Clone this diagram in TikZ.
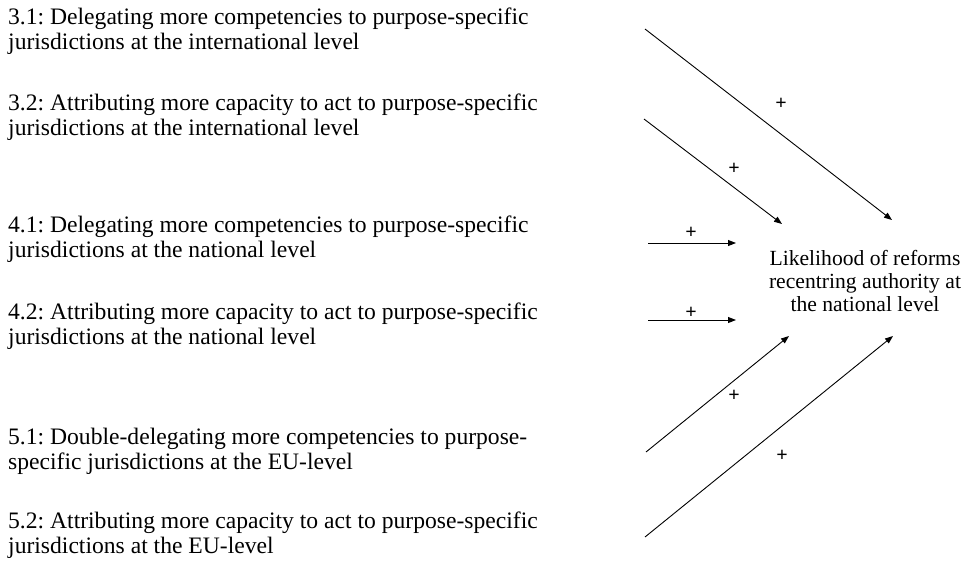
\documentclass[tikz,border=0pt]{standalone}
\usepackage{fontspec}
\setmainfont{Liberation Serif}
\usetikzlibrary{arrows.meta}
\frenchspacing

\tikzset{
  driver/.style={anchor=north west, align=left, inner sep=0pt,
    font=\fontsize{23.6}{25}\selectfont},
  effect/.style={-{Triangle[length=8pt,width=6pt]}, line width=0.9pt},
  sign/.style={inner sep=0pt, font=\bfseries\fontsize{20}{20}\selectfont}
}

\begin{document}
\begin{tikzpicture}[x=1pt,y=-1pt]
    \useasboundingbox (0,0) rectangle (969,565);
    % explanatory factors
    \node[driver] (d31) at (8,8) {3.1: Delegating more competencies to purpose-specific\\jurisdictions at the international level};
    \node[driver] (d32) at (8,94) {3.2: Attributing more capacity to act to purpose-specific\\jurisdictions at the international level};
    \node[driver] (d41) at (8,216) {4.1: Delegating more competencies to purpose-specific\\jurisdictions at the national level};
    \node[driver] (d42) at (8,303) {4.2: Attributing more capacity to act to purpose-specific\\jurisdictions at the national level};
    \node[driver] (d51) at (8,428) {5.1: Double-delegating more competencies to purpose-\\specific jurisdictions at the EU-level};
    \node[driver] (d52) at (8,512) {5.2: Attributing more capacity to act to purpose-specific\\jurisdictions at the EU-level};
    % outcome
    \node[align=center, inner sep=0pt, font=\fontsize{21.6}{23}\selectfont] (likely) at (865,281)
      {Likelihood of reforms\\recentring authority at\\the national level};
    % arrow ends
    \coordinate (s31) at (645,29);  \coordinate (e31) at (892,220);
    \coordinate (s32) at (644,119); \coordinate (e32) at (782,224);
    \coordinate (s41) at (648,243); \coordinate (e41) at (736,243);
    \coordinate (s42) at (648,320); \coordinate (e42) at (736,320);
    \coordinate (s51) at (646,452); \coordinate (e51) at (789,336);
    \coordinate (s52) at (645,537); \coordinate (e52) at (893,336);
    \draw[effect] (s31) -- (e31);
    \draw[effect] (s32) -- (e32);
    \draw[effect] (s41) -- (e41);
    \draw[effect] (s42) -- (e42);
    \draw[effect] (s51) -- (e51);
    \draw[effect] (s52) -- (e52);
    % signs
    \node[sign] (p31) at (781,104) {+};
    \node[sign] (p32) at (734,169) {+};
    \node[sign] (p41) at (691,233) {+};
    \node[sign] (p42) at (691,313) {+};
    \node[sign] (p51) at (734,396) {+};
    \node[sign] (p52) at (782,456) {+};
\end{tikzpicture}
\end{document}
